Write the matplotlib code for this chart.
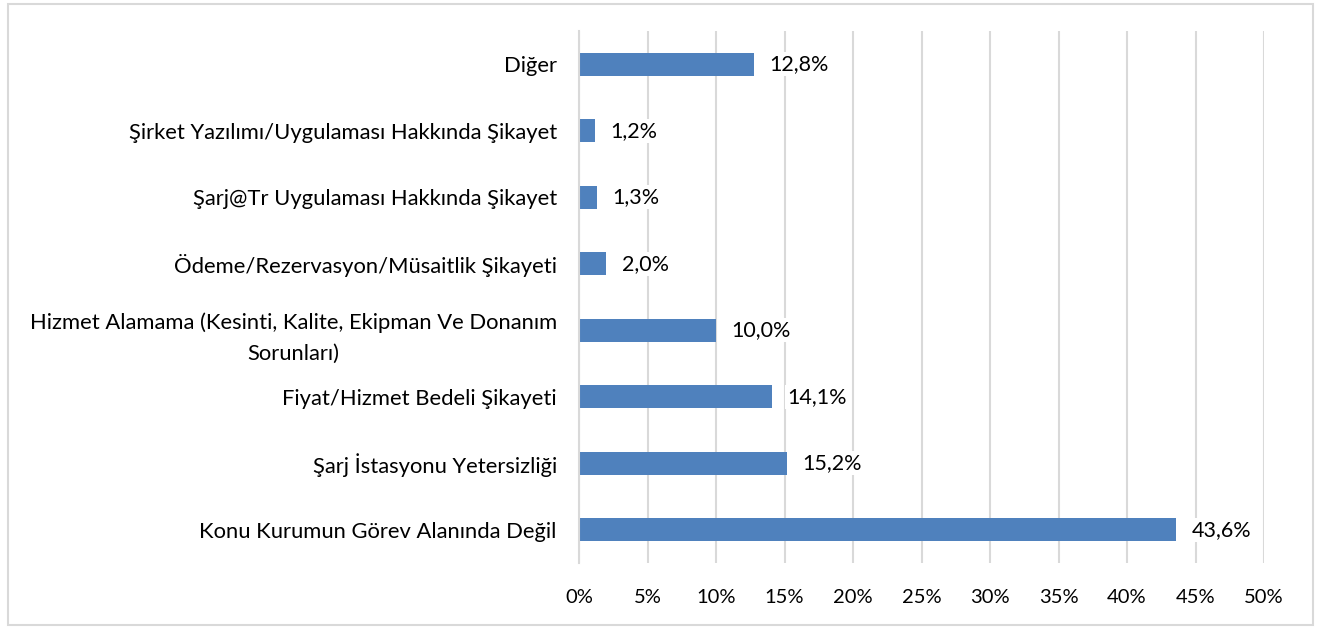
# Horizontal bar chart of complaint categories
import matplotlib.pyplot as plt
from matplotlib.patches import Rectangle
from matplotlib.ticker import MultipleLocator, FuncFormatter

plt.rcParams['font.family'] = ['Lato', 'DejaVu Sans']

# Data (top to bottom as shown)
categories = [
    "Diğer",
    "Şirket Yazılımı/Uygulaması Hakkında Şikayet",
    "Şarj@Tr Uygulaması Hakkında Şikayet",
    "Ödeme/Rezervasyon/Müsaitlik Şikayeti",
    "Hizmet Alamama (Kesinti, Kalite, Ekipman Ve Donanım\nSorunları)",
    "Fiyat/Hizmet Bedeli Şikayeti",
    "Şarj İstasyonu Yetersizliği",
    "Konu Kurumun Görev Alanında Değil",
]
values = [12.8, 1.2, 1.3, 2.0, 10.0, 14.1, 15.2, 43.6]
value_labels = ["12,8%", "1,2%", "1,3%", "2,0%", "10,0%", "14,1%", "15,2%", "43,6%"]

bar_color = "#4F81BD"
grid_color = "#D9D9D9"

fig = plt.figure(figsize=(13.25, 6.28), dpi=100)
ax = fig.add_axes([0.437, 0.1035, 0.517, 0.847])

# Outer chart border
fig.patches.append(Rectangle((0.006, 0.004), 0.985, 0.99, transform=fig.transFigure,
                             fill=False, edgecolor=grid_color, linewidth=1.5))

y_pos = list(range(len(categories)))[::-1]
ax.barh(y_pos, values, height=0.35, color=bar_color, zorder=2)

for y, v, lab in zip(y_pos, values, value_labels):
    ax.annotate(lab, xy=(v, y), xytext=(11, 0), textcoords="offset points",
                ha="left", va="center", fontsize=15.5, color="#000000", zorder=3,
                bbox=dict(boxstyle="square,pad=0.1", facecolor="white", edgecolor="none"))

ax.set_yticks(y_pos)
ax.set_yticklabels(categories, fontsize=15.8, multialignment="center", linespacing=1.7)
ax.set_ylim(-0.5, len(categories) - 0.5)

ax.set_xlim(0, 50)
ax.xaxis.set_major_locator(MultipleLocator(5))
ax.xaxis.set_major_formatter(FuncFormatter(lambda x, p: f"{x:.0f}%"))
ax.tick_params(axis="x", labelsize=14.5, length=0, pad=19)
ax.tick_params(axis="y", length=0, pad=16)

ax.grid(axis="x", color=grid_color, linewidth=1.5, zorder=0)
ax.set_axisbelow(True)
for s in ["top", "right", "bottom"]:
    ax.spines[s].set_visible(False)
ax.spines["left"].set_color(grid_color)
ax.spines["left"].set_linewidth(1.5)

fig.savefig("out.png", dpi=100)
